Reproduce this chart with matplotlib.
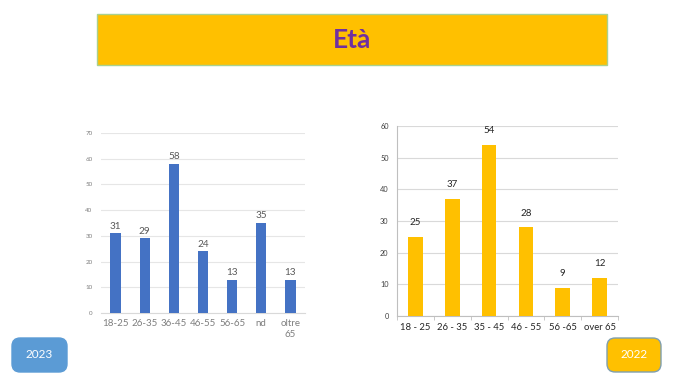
import matplotlib
matplotlib.use("Agg")
import matplotlib.pyplot as plt
from matplotlib.patches import FancyBboxPatch, Rectangle
import numpy as np

plt.rcParams['font.family'] = ['Lato', 'DejaVu Sans']

title = "Età"
cats_2023 = ["18-25", "26-35", "36-45", "46-55", "56-65", "nd", "oltre\n65"]
vals_2023 = [31, 29, 58, 24, 13, 35, 13]
cats_2022 = ["18 - 25", "26 - 35", "35 - 45", "46 - 55", "56 -65", "over 65"]
vals_2022 = [25, 37, 54, 28, 9, 12]
year_left = "2023"
year_right = "2022"

W, H = 680, 383
fig = plt.figure(figsize=(6.8, 3.83), dpi=100)

def fx(x): return x / W
def fy(y): return 1 - y / H

# Title box
fig.patches.append(Rectangle((fx(97), fy(65)), fx(607) - fx(97), fy(14) - fy(65),
                             transform=fig.transFigure, facecolor="#FFC000",
                             edgecolor="#A9D18E", linewidth=1.0))
fig.text(fx(352), fy(40), title, color="#7030A0", fontsize=19, fontweight="bold",
         ha="center", va="center")

# Left chart (2023)
axL = fig.add_axes([fx(101), fy(313), fx(305) - fx(101), fy(133) - fy(313)])
xL = np.arange(len(cats_2023))
axL.bar(xL, vals_2023, width=0.35, color="#4472C4", zorder=3)
axL.set_xlim(-0.5, len(cats_2023) - 0.5)
axL.set_ylim(0, 70)
axL.set_yticks(range(0, 71, 10))
axL.yaxis.grid(True, color="#E6E6E6", linewidth=0.8, zorder=0)
for s in ["top", "right", "left"]:
    axL.spines[s].set_visible(False)
axL.spines["bottom"].set_color("#D9D9D9")
axL.tick_params(axis="y", length=0, labelsize=4.5, labelcolor="#7F7F7F", pad=6)
axL.tick_params(axis="x", length=0, labelsize=7, labelcolor="#7F7F7F", pad=4)
axL.set_xticks(xL)
axL.set_xticklabels(cats_2023, linespacing=1.3, va="top")
for x, v in zip(xL, vals_2023):
    axL.annotate(str(v), (x, v), xytext=(0, 2), textcoords="offset points",
                 ha="center", va="bottom", fontsize=7.2, color="#595959")

# Right chart (2022)
axR = fig.add_axes([fx(397), fy(316), fx(618) - fx(397), fy(126) - fy(316)])
xR = np.arange(len(cats_2022))
axR.bar(xR, vals_2022, width=0.4, color="#FFC000", zorder=3)
axR.set_xlim(-0.5, len(cats_2022) - 0.5)
axR.set_ylim(0, 60)
axR.set_yticks(range(0, 61, 10))
axR.yaxis.grid(True, color="#D9D9D9", linewidth=0.8, zorder=0)
for s in ["top", "right"]:
    axR.spines[s].set_visible(False)
axR.spines["left"].set_color("#BFBFBF")
axR.spines["bottom"].set_color("#BFBFBF")
axR.tick_params(axis="y", length=0, labelsize=5.3, labelcolor="#404040", pad=6)
axR.set_xticks(xR)
axR.set_xticklabels(cats_2022)
axR.tick_params(axis="x", which="major", length=0, labelsize=6.8, labelcolor="#262626", pad=5)
axR.set_xticks(np.arange(-0.5, len(cats_2022), 1.0), minor=True)
axR.tick_params(axis="x", which="minor", length=3, color="#BFBFBF")
for x, v in zip(xR, vals_2022):
    axR.annotate(str(v), (x, v), xytext=(0, 7), textcoords="offset points",
                 ha="center", va="bottom", fontsize=7, color="#262626")

# Year boxes
def year_box(x0, y0, x1, y1, fc, ec, text):
    p = FancyBboxPatch((fx(x0), fy(y1)), fx(x1) - fx(x0), fy(y0) - fy(y1),
                       boxstyle="round,pad=0,rounding_size=0.012",
                       transform=fig.transFigure, facecolor=fc, edgecolor=ec,
                       linewidth=1.0, mutation_aspect=W / H)
    fig.patches.append(p)
    fig.text(fx((x0 + x1) / 2), fy((y0 + y1) / 2), text, color="white",
             fontsize=8.5, ha="center", va="center")

year_box(12, 338, 67, 372, "#5B9BD5", "#5B9BD5", year_left)
year_box(607, 338, 661, 372, "#FFC000", "#7F9FAF", year_right)

fig.savefig("out.png", dpi=100)
